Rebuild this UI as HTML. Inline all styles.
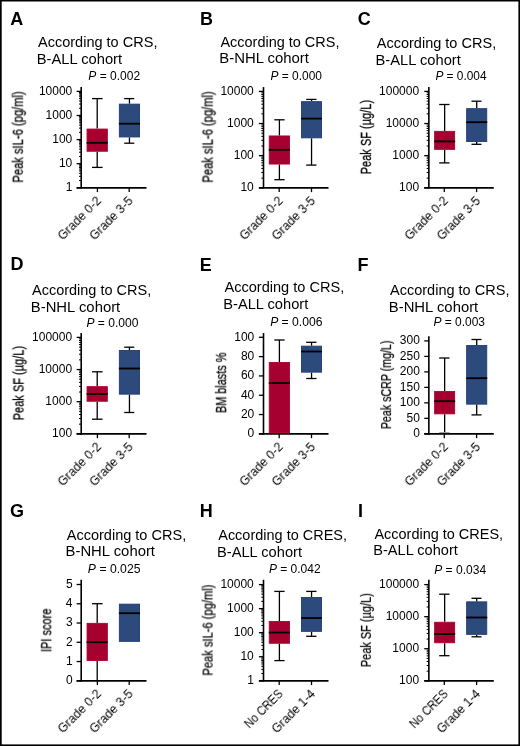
<!DOCTYPE html>
<html><head><meta charset="utf-8"><title>Figure</title>
<style>
html,body{margin:0;padding:0;background:#fff;}
body{width:520px;height:746px;overflow:hidden;}
svg{display:block;font-family:"Liberation Sans", sans-serif;}
text{will-change:transform;}
</style></head><body>
<svg width="520" height="746" viewBox="0 0 520 746" fill="#000">
<rect x="0" y="0" width="520" height="746" fill="#fff"/>
<rect x="0" y="0" width="1.7" height="746" fill="#000"/><rect x="0" y="0" width="520" height="1.5" fill="#000"/><rect x="518.4" y="0" width="1.6" height="746" fill="#000"/><rect x="0" y="744.4" width="520" height="1.6" fill="#000"/>
<text transform="translate(10.35,25.00) scale(1.0000,1)" font-size="18" font-weight="bold">A</text>
<text transform="translate(37.97,47.30) scale(1.0096,1)" font-size="14.4">According to CRS,</text>
<text transform="translate(36.79,64.30) scale(1.0211,1)" font-size="14.4">B-ALL cohort</text>
<text transform="translate(88.33,79.60) scale(1.0013,1)" font-size="12"><tspan font-style="italic">P</tspan> = 0.002</text>
<line x1="81.20" y1="87.10" x2="81.20" y2="188.60" stroke="#000" stroke-width="1.6"/>
<line x1="76.60" y1="187.80" x2="146.50" y2="187.80" stroke="#000" stroke-width="1.7"/>
<line x1="76.60" y1="91.40" x2="81.20" y2="91.40" stroke="#000" stroke-width="1.3"/>
<text transform="translate(38.90,94.80) scale(1.0000,1)" font-size="12">10000</text>
<line x1="76.60" y1="115.50" x2="81.20" y2="115.50" stroke="#000" stroke-width="1.3"/>
<text transform="translate(45.57,118.90) scale(1.0000,1)" font-size="12">1000</text>
<line x1="76.60" y1="139.60" x2="81.20" y2="139.60" stroke="#000" stroke-width="1.3"/>
<text transform="translate(52.25,143.00) scale(1.0000,1)" font-size="12">100</text>
<line x1="76.60" y1="163.70" x2="81.20" y2="163.70" stroke="#000" stroke-width="1.3"/>
<text transform="translate(58.92,167.10) scale(1.0000,1)" font-size="12">10</text>
<line x1="76.60" y1="187.80" x2="81.20" y2="187.80" stroke="#000" stroke-width="1.3"/>
<text transform="translate(65.71,191.20) scale(1.0000,1)" font-size="12">1</text>
<line x1="79.00" y1="108.25" x2="81.20" y2="108.25" stroke="#000" stroke-width="1.0"/>
<line x1="79.00" y1="104.00" x2="81.20" y2="104.00" stroke="#000" stroke-width="1.0"/>
<line x1="79.00" y1="100.99" x2="81.20" y2="100.99" stroke="#000" stroke-width="1.0"/>
<line x1="79.00" y1="98.65" x2="81.20" y2="98.65" stroke="#000" stroke-width="1.0"/>
<line x1="79.00" y1="96.75" x2="81.20" y2="96.75" stroke="#000" stroke-width="1.0"/>
<line x1="79.00" y1="95.13" x2="81.20" y2="95.13" stroke="#000" stroke-width="1.0"/>
<line x1="79.00" y1="93.74" x2="81.20" y2="93.74" stroke="#000" stroke-width="1.0"/>
<line x1="79.00" y1="92.50" x2="81.20" y2="92.50" stroke="#000" stroke-width="1.0"/>
<line x1="79.00" y1="132.35" x2="81.20" y2="132.35" stroke="#000" stroke-width="1.0"/>
<line x1="79.00" y1="128.10" x2="81.20" y2="128.10" stroke="#000" stroke-width="1.0"/>
<line x1="79.00" y1="125.09" x2="81.20" y2="125.09" stroke="#000" stroke-width="1.0"/>
<line x1="79.00" y1="122.75" x2="81.20" y2="122.75" stroke="#000" stroke-width="1.0"/>
<line x1="79.00" y1="120.85" x2="81.20" y2="120.85" stroke="#000" stroke-width="1.0"/>
<line x1="79.00" y1="119.23" x2="81.20" y2="119.23" stroke="#000" stroke-width="1.0"/>
<line x1="79.00" y1="117.84" x2="81.20" y2="117.84" stroke="#000" stroke-width="1.0"/>
<line x1="79.00" y1="116.60" x2="81.20" y2="116.60" stroke="#000" stroke-width="1.0"/>
<line x1="79.00" y1="156.45" x2="81.20" y2="156.45" stroke="#000" stroke-width="1.0"/>
<line x1="79.00" y1="152.20" x2="81.20" y2="152.20" stroke="#000" stroke-width="1.0"/>
<line x1="79.00" y1="149.19" x2="81.20" y2="149.19" stroke="#000" stroke-width="1.0"/>
<line x1="79.00" y1="146.85" x2="81.20" y2="146.85" stroke="#000" stroke-width="1.0"/>
<line x1="79.00" y1="144.95" x2="81.20" y2="144.95" stroke="#000" stroke-width="1.0"/>
<line x1="79.00" y1="143.33" x2="81.20" y2="143.33" stroke="#000" stroke-width="1.0"/>
<line x1="79.00" y1="141.94" x2="81.20" y2="141.94" stroke="#000" stroke-width="1.0"/>
<line x1="79.00" y1="140.70" x2="81.20" y2="140.70" stroke="#000" stroke-width="1.0"/>
<line x1="79.00" y1="180.55" x2="81.20" y2="180.55" stroke="#000" stroke-width="1.0"/>
<line x1="79.00" y1="176.30" x2="81.20" y2="176.30" stroke="#000" stroke-width="1.0"/>
<line x1="79.00" y1="173.29" x2="81.20" y2="173.29" stroke="#000" stroke-width="1.0"/>
<line x1="79.00" y1="170.95" x2="81.20" y2="170.95" stroke="#000" stroke-width="1.0"/>
<line x1="79.00" y1="169.05" x2="81.20" y2="169.05" stroke="#000" stroke-width="1.0"/>
<line x1="79.00" y1="167.43" x2="81.20" y2="167.43" stroke="#000" stroke-width="1.0"/>
<line x1="79.00" y1="166.04" x2="81.20" y2="166.04" stroke="#000" stroke-width="1.0"/>
<line x1="79.00" y1="164.80" x2="81.20" y2="164.80" stroke="#000" stroke-width="1.0"/>
<line x1="97.40" y1="187.80" x2="97.40" y2="192.10" stroke="#000" stroke-width="1.3"/>
<line x1="129.20" y1="187.80" x2="129.20" y2="192.10" stroke="#000" stroke-width="1.3"/>
<text transform="translate(62.78,240.72) rotate(-45) scale(1.0000,1)" font-size="12.3">Grade 0-2</text>
<text transform="translate(94.51,240.79) rotate(-45) scale(1.0000,1)" font-size="12.3">Grade 3-5</text>
<line x1="97.20" y1="98.60" x2="97.20" y2="128.60" stroke="#000" stroke-width="1.3"/>
<line x1="92.00" y1="98.60" x2="102.60" y2="98.60" stroke="#000" stroke-width="1.3"/>
<line x1="97.20" y1="151.70" x2="97.20" y2="167.40" stroke="#000" stroke-width="1.3"/>
<line x1="92.00" y1="167.40" x2="102.60" y2="167.40" stroke="#000" stroke-width="1.3"/>
<rect x="87.05" y="129.05" width="20.30" height="22.20" fill="#a50030" stroke="#b0002e" stroke-width="0.9"/>
<line x1="86.60" y1="142.80" x2="107.80" y2="142.80" stroke="#000" stroke-width="1.8"/>
<line x1="129.45" y1="98.60" x2="129.45" y2="103.70" stroke="#000" stroke-width="1.3"/>
<line x1="124.20" y1="98.60" x2="134.30" y2="98.60" stroke="#000" stroke-width="1.3"/>
<line x1="129.45" y1="137.40" x2="129.45" y2="143.20" stroke="#000" stroke-width="1.3"/>
<line x1="124.20" y1="143.20" x2="134.30" y2="143.20" stroke="#000" stroke-width="1.3"/>
<rect x="119.35" y="104.15" width="20.20" height="32.80" fill="#2d4a7d" stroke="#1f3b76" stroke-width="0.9"/>
<line x1="118.90" y1="123.70" x2="140.00" y2="123.70" stroke="#000" stroke-width="1.8"/>
<text transform="translate(22.80,182.62) rotate(-90) scale(0.7443,1)" font-size="15" stroke="#000" stroke-width="0.25">Peak sIL-6 (pg/ml)</text>
<text transform="translate(199.90,25.00) scale(1.0000,1)" font-size="18" font-weight="bold">B</text>
<text transform="translate(220.47,46.50) scale(1.0053,1)" font-size="14.4">According to CRS,</text>
<text transform="translate(219.28,63.30) scale(1.0356,1)" font-size="14.4">B-NHL cohort</text>
<text transform="translate(270.43,79.80) scale(0.9966,1)" font-size="12"><tspan font-style="italic">P</tspan> = 0.000</text>
<line x1="263.50" y1="87.10" x2="263.50" y2="188.60" stroke="#000" stroke-width="1.6"/>
<line x1="258.90" y1="187.80" x2="328.50" y2="187.80" stroke="#000" stroke-width="1.7"/>
<line x1="258.90" y1="91.40" x2="263.50" y2="91.40" stroke="#000" stroke-width="1.3"/>
<text transform="translate(220.40,94.80) scale(1.0000,1)" font-size="12">10000</text>
<line x1="258.90" y1="123.53" x2="263.50" y2="123.53" stroke="#000" stroke-width="1.3"/>
<text transform="translate(227.07,126.93) scale(1.0000,1)" font-size="12">1000</text>
<line x1="258.90" y1="155.67" x2="263.50" y2="155.67" stroke="#000" stroke-width="1.3"/>
<text transform="translate(233.75,159.07) scale(1.0000,1)" font-size="12">100</text>
<line x1="258.90" y1="187.80" x2="263.50" y2="187.80" stroke="#000" stroke-width="1.3"/>
<text transform="translate(240.42,191.20) scale(1.0000,1)" font-size="12">10</text>
<line x1="261.30" y1="113.86" x2="263.50" y2="113.86" stroke="#000" stroke-width="1.0"/>
<line x1="261.30" y1="108.20" x2="263.50" y2="108.20" stroke="#000" stroke-width="1.0"/>
<line x1="261.30" y1="104.19" x2="263.50" y2="104.19" stroke="#000" stroke-width="1.0"/>
<line x1="261.30" y1="101.07" x2="263.50" y2="101.07" stroke="#000" stroke-width="1.0"/>
<line x1="261.30" y1="98.53" x2="263.50" y2="98.53" stroke="#000" stroke-width="1.0"/>
<line x1="261.30" y1="96.38" x2="263.50" y2="96.38" stroke="#000" stroke-width="1.0"/>
<line x1="261.30" y1="94.51" x2="263.50" y2="94.51" stroke="#000" stroke-width="1.0"/>
<line x1="261.30" y1="92.87" x2="263.50" y2="92.87" stroke="#000" stroke-width="1.0"/>
<line x1="261.30" y1="145.99" x2="263.50" y2="145.99" stroke="#000" stroke-width="1.0"/>
<line x1="261.30" y1="140.34" x2="263.50" y2="140.34" stroke="#000" stroke-width="1.0"/>
<line x1="261.30" y1="136.32" x2="263.50" y2="136.32" stroke="#000" stroke-width="1.0"/>
<line x1="261.30" y1="133.21" x2="263.50" y2="133.21" stroke="#000" stroke-width="1.0"/>
<line x1="261.30" y1="130.66" x2="263.50" y2="130.66" stroke="#000" stroke-width="1.0"/>
<line x1="261.30" y1="128.51" x2="263.50" y2="128.51" stroke="#000" stroke-width="1.0"/>
<line x1="261.30" y1="126.65" x2="263.50" y2="126.65" stroke="#000" stroke-width="1.0"/>
<line x1="261.30" y1="125.00" x2="263.50" y2="125.00" stroke="#000" stroke-width="1.0"/>
<line x1="261.30" y1="178.13" x2="263.50" y2="178.13" stroke="#000" stroke-width="1.0"/>
<line x1="261.30" y1="172.47" x2="263.50" y2="172.47" stroke="#000" stroke-width="1.0"/>
<line x1="261.30" y1="168.45" x2="263.50" y2="168.45" stroke="#000" stroke-width="1.0"/>
<line x1="261.30" y1="165.34" x2="263.50" y2="165.34" stroke="#000" stroke-width="1.0"/>
<line x1="261.30" y1="162.80" x2="263.50" y2="162.80" stroke="#000" stroke-width="1.0"/>
<line x1="261.30" y1="160.64" x2="263.50" y2="160.64" stroke="#000" stroke-width="1.0"/>
<line x1="261.30" y1="158.78" x2="263.50" y2="158.78" stroke="#000" stroke-width="1.0"/>
<line x1="261.30" y1="157.14" x2="263.50" y2="157.14" stroke="#000" stroke-width="1.0"/>
<line x1="279.20" y1="187.80" x2="279.20" y2="192.10" stroke="#000" stroke-width="1.3"/>
<line x1="311.50" y1="187.80" x2="311.50" y2="192.10" stroke="#000" stroke-width="1.3"/>
<text transform="translate(244.58,240.72) rotate(-45) scale(1.0000,1)" font-size="12.3">Grade 0-2</text>
<text transform="translate(276.81,240.79) rotate(-45) scale(1.0000,1)" font-size="12.3">Grade 3-5</text>
<line x1="279.40" y1="119.80" x2="279.40" y2="135.50" stroke="#000" stroke-width="1.3"/>
<line x1="274.30" y1="119.80" x2="284.60" y2="119.80" stroke="#000" stroke-width="1.3"/>
<line x1="279.40" y1="164.50" x2="279.40" y2="179.70" stroke="#000" stroke-width="1.3"/>
<line x1="274.30" y1="179.70" x2="284.60" y2="179.70" stroke="#000" stroke-width="1.3"/>
<rect x="269.25" y="135.95" width="20.30" height="28.10" fill="#a50030" stroke="#b0002e" stroke-width="0.9"/>
<line x1="268.80" y1="149.80" x2="290.00" y2="149.80" stroke="#000" stroke-width="1.8"/>
<line x1="311.55" y1="99.40" x2="311.55" y2="101.20" stroke="#000" stroke-width="1.3"/>
<line x1="306.20" y1="99.40" x2="316.50" y2="99.40" stroke="#000" stroke-width="1.3"/>
<line x1="311.55" y1="138.30" x2="311.55" y2="165.10" stroke="#000" stroke-width="1.3"/>
<line x1="306.20" y1="165.10" x2="316.50" y2="165.10" stroke="#000" stroke-width="1.3"/>
<rect x="301.55" y="101.65" width="20.00" height="36.20" fill="#2d4a7d" stroke="#1f3b76" stroke-width="0.9"/>
<line x1="301.10" y1="118.60" x2="322.00" y2="118.60" stroke="#000" stroke-width="1.8"/>
<text transform="translate(212.60,182.62) rotate(-90) scale(0.7443,1)" font-size="15" stroke="#000" stroke-width="0.25">Peak sIL-6 (pg/ml)</text>
<text transform="translate(357.86,25.00) scale(1.0000,1)" font-size="18" font-weight="bold">C</text>
<text transform="translate(376.72,48.00) scale(1.0096,1)" font-size="14.4">According to CRS,</text>
<text transform="translate(375.54,65.00) scale(1.0211,1)" font-size="14.4">B-ALL cohort</text>
<text transform="translate(435.38,80.00) scale(0.9904,1)" font-size="12"><tspan font-style="italic">P</tspan> = 0.004</text>
<line x1="428.85" y1="87.10" x2="428.85" y2="188.60" stroke="#000" stroke-width="1.6"/>
<line x1="424.25" y1="187.80" x2="493.80" y2="187.80" stroke="#000" stroke-width="1.7"/>
<line x1="424.25" y1="91.40" x2="428.85" y2="91.40" stroke="#000" stroke-width="1.3"/>
<text transform="translate(379.03,94.80) scale(1.0000,1)" font-size="12">100000</text>
<line x1="424.25" y1="123.53" x2="428.85" y2="123.53" stroke="#000" stroke-width="1.3"/>
<text transform="translate(385.70,126.93) scale(1.0000,1)" font-size="12">10000</text>
<line x1="424.25" y1="155.67" x2="428.85" y2="155.67" stroke="#000" stroke-width="1.3"/>
<text transform="translate(392.37,159.07) scale(1.0000,1)" font-size="12">1000</text>
<line x1="424.25" y1="187.80" x2="428.85" y2="187.80" stroke="#000" stroke-width="1.3"/>
<text transform="translate(399.05,191.20) scale(1.0000,1)" font-size="12">100</text>
<line x1="426.65" y1="113.86" x2="428.85" y2="113.86" stroke="#000" stroke-width="1.0"/>
<line x1="426.65" y1="108.20" x2="428.85" y2="108.20" stroke="#000" stroke-width="1.0"/>
<line x1="426.65" y1="104.19" x2="428.85" y2="104.19" stroke="#000" stroke-width="1.0"/>
<line x1="426.65" y1="101.07" x2="428.85" y2="101.07" stroke="#000" stroke-width="1.0"/>
<line x1="426.65" y1="98.53" x2="428.85" y2="98.53" stroke="#000" stroke-width="1.0"/>
<line x1="426.65" y1="96.38" x2="428.85" y2="96.38" stroke="#000" stroke-width="1.0"/>
<line x1="426.65" y1="94.51" x2="428.85" y2="94.51" stroke="#000" stroke-width="1.0"/>
<line x1="426.65" y1="92.87" x2="428.85" y2="92.87" stroke="#000" stroke-width="1.0"/>
<line x1="426.65" y1="145.99" x2="428.85" y2="145.99" stroke="#000" stroke-width="1.0"/>
<line x1="426.65" y1="140.34" x2="428.85" y2="140.34" stroke="#000" stroke-width="1.0"/>
<line x1="426.65" y1="136.32" x2="428.85" y2="136.32" stroke="#000" stroke-width="1.0"/>
<line x1="426.65" y1="133.21" x2="428.85" y2="133.21" stroke="#000" stroke-width="1.0"/>
<line x1="426.65" y1="130.66" x2="428.85" y2="130.66" stroke="#000" stroke-width="1.0"/>
<line x1="426.65" y1="128.51" x2="428.85" y2="128.51" stroke="#000" stroke-width="1.0"/>
<line x1="426.65" y1="126.65" x2="428.85" y2="126.65" stroke="#000" stroke-width="1.0"/>
<line x1="426.65" y1="125.00" x2="428.85" y2="125.00" stroke="#000" stroke-width="1.0"/>
<line x1="426.65" y1="178.13" x2="428.85" y2="178.13" stroke="#000" stroke-width="1.0"/>
<line x1="426.65" y1="172.47" x2="428.85" y2="172.47" stroke="#000" stroke-width="1.0"/>
<line x1="426.65" y1="168.45" x2="428.85" y2="168.45" stroke="#000" stroke-width="1.0"/>
<line x1="426.65" y1="165.34" x2="428.85" y2="165.34" stroke="#000" stroke-width="1.0"/>
<line x1="426.65" y1="162.80" x2="428.85" y2="162.80" stroke="#000" stroke-width="1.0"/>
<line x1="426.65" y1="160.64" x2="428.85" y2="160.64" stroke="#000" stroke-width="1.0"/>
<line x1="426.65" y1="158.78" x2="428.85" y2="158.78" stroke="#000" stroke-width="1.0"/>
<line x1="426.65" y1="157.14" x2="428.85" y2="157.14" stroke="#000" stroke-width="1.0"/>
<line x1="444.30" y1="187.80" x2="444.30" y2="192.10" stroke="#000" stroke-width="1.3"/>
<line x1="476.60" y1="187.80" x2="476.60" y2="192.10" stroke="#000" stroke-width="1.3"/>
<text transform="translate(409.68,240.72) rotate(-45) scale(1.0000,1)" font-size="12.3">Grade 0-2</text>
<text transform="translate(441.91,240.79) rotate(-45) scale(1.0000,1)" font-size="12.3">Grade 3-5</text>
<line x1="444.65" y1="104.50" x2="444.65" y2="130.90" stroke="#000" stroke-width="1.3"/>
<line x1="439.20" y1="104.50" x2="449.50" y2="104.50" stroke="#000" stroke-width="1.3"/>
<line x1="444.65" y1="149.80" x2="444.65" y2="162.90" stroke="#000" stroke-width="1.3"/>
<line x1="439.20" y1="162.90" x2="449.50" y2="162.90" stroke="#000" stroke-width="1.3"/>
<rect x="434.65" y="131.35" width="20.00" height="18.00" fill="#a50030" stroke="#b0002e" stroke-width="0.9"/>
<line x1="434.20" y1="141.40" x2="455.10" y2="141.40" stroke="#000" stroke-width="1.8"/>
<line x1="476.70" y1="101.20" x2="476.70" y2="108.20" stroke="#000" stroke-width="1.3"/>
<line x1="471.50" y1="101.20" x2="481.50" y2="101.20" stroke="#000" stroke-width="1.3"/>
<line x1="476.70" y1="142.00" x2="476.70" y2="144.30" stroke="#000" stroke-width="1.3"/>
<line x1="471.50" y1="144.30" x2="481.50" y2="144.30" stroke="#000" stroke-width="1.3"/>
<rect x="466.65" y="108.65" width="20.10" height="32.90" fill="#2d4a7d" stroke="#1f3b76" stroke-width="0.9"/>
<line x1="466.20" y1="122.20" x2="487.20" y2="122.20" stroke="#000" stroke-width="1.8"/>
<text transform="translate(370.90,174.30) rotate(-90) scale(0.7352,1)" font-size="15" stroke="#000" stroke-width="0.25">Peak SF (µg/L)</text>
<text transform="translate(10.50,270.30) scale(1.0000,1)" font-size="18" font-weight="bold">D</text>
<text transform="translate(31.97,294.75) scale(1.0075,1)" font-size="14.4">According to CRS,</text>
<text transform="translate(30.78,311.50) scale(1.0327,1)" font-size="14.4">B-NHL cohort</text>
<text transform="translate(86.38,327.00) scale(1.0074,1)" font-size="12"><tspan font-style="italic">P</tspan> = 0.000</text>
<line x1="81.20" y1="333.10" x2="81.20" y2="434.65" stroke="#000" stroke-width="1.6"/>
<line x1="76.60" y1="433.85" x2="146.50" y2="433.85" stroke="#000" stroke-width="1.7"/>
<line x1="76.60" y1="337.40" x2="81.20" y2="337.40" stroke="#000" stroke-width="1.3"/>
<text transform="translate(32.03,340.80) scale(1.0000,1)" font-size="12">100000</text>
<line x1="76.60" y1="369.55" x2="81.20" y2="369.55" stroke="#000" stroke-width="1.3"/>
<text transform="translate(38.70,372.95) scale(1.0000,1)" font-size="12">10000</text>
<line x1="76.60" y1="401.70" x2="81.20" y2="401.70" stroke="#000" stroke-width="1.3"/>
<text transform="translate(45.37,405.10) scale(1.0000,1)" font-size="12">1000</text>
<line x1="76.60" y1="433.85" x2="81.20" y2="433.85" stroke="#000" stroke-width="1.3"/>
<text transform="translate(52.05,437.25) scale(1.0000,1)" font-size="12">100</text>
<line x1="79.00" y1="359.87" x2="81.20" y2="359.87" stroke="#000" stroke-width="1.0"/>
<line x1="79.00" y1="354.21" x2="81.20" y2="354.21" stroke="#000" stroke-width="1.0"/>
<line x1="79.00" y1="350.19" x2="81.20" y2="350.19" stroke="#000" stroke-width="1.0"/>
<line x1="79.00" y1="347.08" x2="81.20" y2="347.08" stroke="#000" stroke-width="1.0"/>
<line x1="79.00" y1="344.53" x2="81.20" y2="344.53" stroke="#000" stroke-width="1.0"/>
<line x1="79.00" y1="342.38" x2="81.20" y2="342.38" stroke="#000" stroke-width="1.0"/>
<line x1="79.00" y1="340.52" x2="81.20" y2="340.52" stroke="#000" stroke-width="1.0"/>
<line x1="79.00" y1="338.87" x2="81.20" y2="338.87" stroke="#000" stroke-width="1.0"/>
<line x1="79.00" y1="392.02" x2="81.20" y2="392.02" stroke="#000" stroke-width="1.0"/>
<line x1="79.00" y1="386.36" x2="81.20" y2="386.36" stroke="#000" stroke-width="1.0"/>
<line x1="79.00" y1="382.34" x2="81.20" y2="382.34" stroke="#000" stroke-width="1.0"/>
<line x1="79.00" y1="379.23" x2="81.20" y2="379.23" stroke="#000" stroke-width="1.0"/>
<line x1="79.00" y1="376.68" x2="81.20" y2="376.68" stroke="#000" stroke-width="1.0"/>
<line x1="79.00" y1="374.53" x2="81.20" y2="374.53" stroke="#000" stroke-width="1.0"/>
<line x1="79.00" y1="372.67" x2="81.20" y2="372.67" stroke="#000" stroke-width="1.0"/>
<line x1="79.00" y1="371.02" x2="81.20" y2="371.02" stroke="#000" stroke-width="1.0"/>
<line x1="79.00" y1="424.17" x2="81.20" y2="424.17" stroke="#000" stroke-width="1.0"/>
<line x1="79.00" y1="418.51" x2="81.20" y2="418.51" stroke="#000" stroke-width="1.0"/>
<line x1="79.00" y1="414.49" x2="81.20" y2="414.49" stroke="#000" stroke-width="1.0"/>
<line x1="79.00" y1="411.38" x2="81.20" y2="411.38" stroke="#000" stroke-width="1.0"/>
<line x1="79.00" y1="408.83" x2="81.20" y2="408.83" stroke="#000" stroke-width="1.0"/>
<line x1="79.00" y1="406.68" x2="81.20" y2="406.68" stroke="#000" stroke-width="1.0"/>
<line x1="79.00" y1="404.82" x2="81.20" y2="404.82" stroke="#000" stroke-width="1.0"/>
<line x1="79.00" y1="403.17" x2="81.20" y2="403.17" stroke="#000" stroke-width="1.0"/>
<line x1="97.40" y1="433.85" x2="97.40" y2="438.15" stroke="#000" stroke-width="1.3"/>
<line x1="129.20" y1="433.85" x2="129.20" y2="438.15" stroke="#000" stroke-width="1.3"/>
<text transform="translate(62.78,486.77) rotate(-45) scale(1.0000,1)" font-size="12.3">Grade 0-2</text>
<text transform="translate(94.51,486.84) rotate(-45) scale(1.0000,1)" font-size="12.3">Grade 3-5</text>
<line x1="97.20" y1="371.80" x2="97.20" y2="386.20" stroke="#000" stroke-width="1.3"/>
<line x1="92.00" y1="371.80" x2="102.60" y2="371.80" stroke="#000" stroke-width="1.3"/>
<line x1="97.20" y1="401.70" x2="97.20" y2="419.20" stroke="#000" stroke-width="1.3"/>
<line x1="92.00" y1="419.20" x2="102.60" y2="419.20" stroke="#000" stroke-width="1.3"/>
<rect x="87.05" y="386.65" width="20.30" height="14.60" fill="#a50030" stroke="#b0002e" stroke-width="0.9"/>
<line x1="86.60" y1="394.00" x2="107.80" y2="394.00" stroke="#000" stroke-width="1.8"/>
<line x1="129.45" y1="347.20" x2="129.45" y2="350.00" stroke="#000" stroke-width="1.3"/>
<line x1="124.20" y1="347.20" x2="134.30" y2="347.20" stroke="#000" stroke-width="1.3"/>
<line x1="129.45" y1="394.60" x2="129.45" y2="412.50" stroke="#000" stroke-width="1.3"/>
<line x1="124.20" y1="412.50" x2="134.30" y2="412.50" stroke="#000" stroke-width="1.3"/>
<rect x="119.35" y="350.45" width="20.20" height="43.70" fill="#2d4a7d" stroke="#1f3b76" stroke-width="0.9"/>
<line x1="118.90" y1="368.50" x2="140.00" y2="368.50" stroke="#000" stroke-width="1.8"/>
<text transform="translate(23.50,420.30) rotate(-90) scale(0.7352,1)" font-size="15" stroke="#000" stroke-width="0.25">Peak SF (µg/L)</text>
<text transform="translate(199.70,270.60) scale(1.0000,1)" font-size="18" font-weight="bold">E</text>
<text transform="translate(224.47,292.30) scale(1.0117,1)" font-size="14.4">According to CRS,</text>
<text transform="translate(223.30,309.30) scale(1.0180,1)" font-size="14.4">B-ALL cohort</text>
<text transform="translate(270.13,325.50) scale(1.0135,1)" font-size="12"><tspan font-style="italic">P</tspan> = 0.006</text>
<line x1="263.50" y1="333.10" x2="263.50" y2="434.65" stroke="#000" stroke-width="1.6"/>
<line x1="258.90" y1="433.85" x2="328.50" y2="433.85" stroke="#000" stroke-width="1.7"/>
<line x1="258.90" y1="337.30" x2="263.50" y2="337.30" stroke="#000" stroke-width="1.3"/>
<text transform="translate(234.25,340.70) scale(1.0000,1)" font-size="12">100</text>
<line x1="258.90" y1="356.61" x2="263.50" y2="356.61" stroke="#000" stroke-width="1.3"/>
<text transform="translate(240.92,360.01) scale(1.0000,1)" font-size="12">80</text>
<line x1="258.90" y1="375.92" x2="263.50" y2="375.92" stroke="#000" stroke-width="1.3"/>
<text transform="translate(240.92,379.32) scale(1.0000,1)" font-size="12">60</text>
<line x1="258.90" y1="395.23" x2="263.50" y2="395.23" stroke="#000" stroke-width="1.3"/>
<text transform="translate(240.92,398.63) scale(1.0000,1)" font-size="12">40</text>
<line x1="258.90" y1="414.54" x2="263.50" y2="414.54" stroke="#000" stroke-width="1.3"/>
<text transform="translate(240.92,417.94) scale(1.0000,1)" font-size="12">20</text>
<line x1="258.90" y1="433.85" x2="263.50" y2="433.85" stroke="#000" stroke-width="1.3"/>
<text transform="translate(247.59,437.25) scale(1.0000,1)" font-size="12">0</text>
<line x1="279.20" y1="433.85" x2="279.20" y2="438.15" stroke="#000" stroke-width="1.3"/>
<line x1="311.50" y1="433.85" x2="311.50" y2="438.15" stroke="#000" stroke-width="1.3"/>
<text transform="translate(244.58,486.77) rotate(-45) scale(1.0000,1)" font-size="12.3">Grade 0-2</text>
<text transform="translate(276.81,486.84) rotate(-45) scale(1.0000,1)" font-size="12.3">Grade 3-5</text>
<line x1="279.40" y1="340.00" x2="279.40" y2="362.00" stroke="#000" stroke-width="1.3"/>
<line x1="274.30" y1="340.00" x2="284.60" y2="340.00" stroke="#000" stroke-width="1.3"/>
<rect x="269.25" y="362.45" width="20.30" height="70.50" fill="#a50030" stroke="#b0002e" stroke-width="0.9"/>
<line x1="268.80" y1="383.10" x2="290.00" y2="383.10" stroke="#000" stroke-width="1.8"/>
<line x1="311.55" y1="342.30" x2="311.55" y2="345.70" stroke="#000" stroke-width="1.3"/>
<line x1="306.20" y1="342.30" x2="316.50" y2="342.30" stroke="#000" stroke-width="1.3"/>
<line x1="311.55" y1="372.60" x2="311.55" y2="378.50" stroke="#000" stroke-width="1.3"/>
<line x1="306.20" y1="378.50" x2="316.50" y2="378.50" stroke="#000" stroke-width="1.3"/>
<rect x="301.55" y="346.15" width="20.00" height="26.00" fill="#2d4a7d" stroke="#1f3b76" stroke-width="0.9"/>
<line x1="301.10" y1="351.50" x2="322.00" y2="351.50" stroke="#000" stroke-width="1.8"/>
<text transform="translate(226.10,412.99) rotate(-90) scale(0.7033,1)" font-size="15.5" stroke="#000" stroke-width="0.25">BM blasts %</text>
<text transform="translate(357.40,270.60) scale(1.0000,1)" font-size="18" font-weight="bold">F</text>
<text transform="translate(389.97,294.75) scale(1.0096,1)" font-size="14.4">According to CRS,</text>
<text transform="translate(388.78,311.50) scale(1.0327,1)" font-size="14.4">B-NHL cohort</text>
<text transform="translate(433.38,325.50) scale(0.9988,1)" font-size="12"><tspan font-style="italic">P</tspan> = 0.003</text>
<line x1="428.85" y1="336.20" x2="428.85" y2="434.65" stroke="#000" stroke-width="1.6"/>
<line x1="424.25" y1="433.85" x2="493.80" y2="433.85" stroke="#000" stroke-width="1.7"/>
<line x1="424.25" y1="340.90" x2="428.85" y2="340.90" stroke="#000" stroke-width="1.3"/>
<text transform="translate(399.85,344.30) scale(1.0000,1)" font-size="12">300</text>
<line x1="424.25" y1="356.39" x2="428.85" y2="356.39" stroke="#000" stroke-width="1.3"/>
<text transform="translate(399.85,359.79) scale(1.0000,1)" font-size="12">250</text>
<line x1="424.25" y1="371.88" x2="428.85" y2="371.88" stroke="#000" stroke-width="1.3"/>
<text transform="translate(399.85,375.28) scale(1.0000,1)" font-size="12">200</text>
<line x1="424.25" y1="387.38" x2="428.85" y2="387.38" stroke="#000" stroke-width="1.3"/>
<text transform="translate(399.85,390.77) scale(1.0000,1)" font-size="12">150</text>
<line x1="424.25" y1="402.87" x2="428.85" y2="402.87" stroke="#000" stroke-width="1.3"/>
<text transform="translate(399.85,406.27) scale(1.0000,1)" font-size="12">100</text>
<line x1="424.25" y1="418.36" x2="428.85" y2="418.36" stroke="#000" stroke-width="1.3"/>
<text transform="translate(406.52,421.76) scale(1.0000,1)" font-size="12">50</text>
<line x1="424.25" y1="433.85" x2="428.85" y2="433.85" stroke="#000" stroke-width="1.3"/>
<text transform="translate(413.19,437.25) scale(1.0000,1)" font-size="12">0</text>
<line x1="444.30" y1="433.85" x2="444.30" y2="438.15" stroke="#000" stroke-width="1.3"/>
<line x1="476.60" y1="433.85" x2="476.60" y2="438.15" stroke="#000" stroke-width="1.3"/>
<text transform="translate(409.68,486.77) rotate(-45) scale(1.0000,1)" font-size="12.3">Grade 0-2</text>
<text transform="translate(441.91,486.84) rotate(-45) scale(1.0000,1)" font-size="12.3">Grade 3-5</text>
<line x1="444.65" y1="358.00" x2="444.65" y2="391.10" stroke="#000" stroke-width="1.3"/>
<line x1="439.20" y1="358.00" x2="449.50" y2="358.00" stroke="#000" stroke-width="1.3"/>
<line x1="444.65" y1="414.30" x2="444.65" y2="432.60" stroke="#000" stroke-width="1.3"/>
<line x1="439.20" y1="432.60" x2="449.50" y2="432.60" stroke="#999" stroke-width="1.0"/>
<rect x="434.65" y="391.55" width="20.00" height="22.30" fill="#a50030" stroke="#b0002e" stroke-width="0.9"/>
<line x1="434.20" y1="401.20" x2="455.10" y2="401.20" stroke="#000" stroke-width="1.8"/>
<line x1="476.70" y1="339.50" x2="476.70" y2="345.10" stroke="#000" stroke-width="1.3"/>
<line x1="471.50" y1="339.50" x2="481.50" y2="339.50" stroke="#000" stroke-width="1.3"/>
<line x1="476.70" y1="404.60" x2="476.70" y2="414.90" stroke="#000" stroke-width="1.3"/>
<line x1="471.50" y1="414.90" x2="481.50" y2="414.90" stroke="#000" stroke-width="1.3"/>
<rect x="466.65" y="345.55" width="20.10" height="58.60" fill="#2d4a7d" stroke="#1f3b76" stroke-width="0.9"/>
<line x1="466.20" y1="378.20" x2="487.20" y2="378.20" stroke="#000" stroke-width="1.8"/>
<text transform="translate(391.10,429.08) rotate(-90) scale(0.7113,1)" font-size="15" stroke="#000" stroke-width="0.25">Peak sCRP (mg/L)</text>
<text transform="translate(10.06,516.50) scale(1.0000,1)" font-size="18" font-weight="bold">G</text>
<text transform="translate(66.72,539.50) scale(1.0096,1)" font-size="14.4">According to CRS,</text>
<text transform="translate(65.53,556.30) scale(1.0327,1)" font-size="14.4">B-NHL cohort</text>
<text transform="translate(87.87,572.75) scale(1.0180,1)" font-size="12"><tspan font-style="italic">P</tspan> = 0.025</text>
<line x1="81.20" y1="579.80" x2="81.20" y2="681.60" stroke="#000" stroke-width="1.6"/>
<line x1="76.60" y1="680.80" x2="146.50" y2="680.80" stroke="#000" stroke-width="1.7"/>
<line x1="76.60" y1="584.50" x2="81.20" y2="584.50" stroke="#000" stroke-width="1.3"/>
<text transform="translate(65.93,587.90) scale(1.0000,1)" font-size="12">5</text>
<line x1="76.60" y1="603.76" x2="81.20" y2="603.76" stroke="#000" stroke-width="1.3"/>
<text transform="translate(65.78,607.16) scale(1.0000,1)" font-size="12">4</text>
<line x1="76.60" y1="623.02" x2="81.20" y2="623.02" stroke="#000" stroke-width="1.3"/>
<text transform="translate(65.95,626.42) scale(1.0000,1)" font-size="12">3</text>
<line x1="76.60" y1="642.28" x2="81.20" y2="642.28" stroke="#000" stroke-width="1.3"/>
<text transform="translate(66.03,645.68) scale(1.0000,1)" font-size="12">2</text>
<line x1="76.60" y1="661.54" x2="81.20" y2="661.54" stroke="#000" stroke-width="1.3"/>
<text transform="translate(66.01,664.94) scale(1.0000,1)" font-size="12">1</text>
<line x1="76.60" y1="680.80" x2="81.20" y2="680.80" stroke="#000" stroke-width="1.3"/>
<text transform="translate(65.89,684.20) scale(1.0000,1)" font-size="12">0</text>
<line x1="97.40" y1="680.80" x2="97.40" y2="685.10" stroke="#000" stroke-width="1.3"/>
<line x1="129.20" y1="680.80" x2="129.20" y2="685.10" stroke="#000" stroke-width="1.3"/>
<text transform="translate(62.78,733.72) rotate(-45) scale(1.0000,1)" font-size="12.3">Grade 0-2</text>
<text transform="translate(94.51,733.79) rotate(-45) scale(1.0000,1)" font-size="12.3">Grade 3-5</text>
<line x1="97.20" y1="603.70" x2="97.20" y2="622.90" stroke="#000" stroke-width="1.3"/>
<line x1="92.00" y1="603.70" x2="102.60" y2="603.70" stroke="#000" stroke-width="1.3"/>
<line x1="97.20" y1="660.90" x2="97.20" y2="680.60" stroke="#000" stroke-width="1.3"/>
<rect x="87.05" y="623.35" width="20.30" height="37.10" fill="#a50030" stroke="#b0002e" stroke-width="0.9"/>
<line x1="86.60" y1="642.20" x2="107.80" y2="642.20" stroke="#000" stroke-width="1.8"/>
<rect x="119.35" y="604.15" width="20.20" height="37.20" fill="#2d4a7d" stroke="#1f3b76" stroke-width="0.9"/>
<line x1="118.90" y1="613.20" x2="140.00" y2="613.20" stroke="#000" stroke-width="1.8"/>
<text transform="translate(51.20,651.92) rotate(-90) scale(0.7333,1)" font-size="15" stroke="#000" stroke-width="0.25">IPI score</text>
<text transform="translate(199.70,516.50) scale(1.0000,1)" font-size="18" font-weight="bold">H</text>
<text transform="translate(218.22,540.20) scale(1.0061,1)" font-size="14.4">According to CRES,</text>
<text transform="translate(217.05,557.00) scale(1.0180,1)" font-size="14.4">B-ALL cohort</text>
<text transform="translate(268.88,573.25) scale(1.0003,1)" font-size="12"><tspan font-style="italic">P</tspan> = 0.042</text>
<line x1="263.50" y1="579.80" x2="263.50" y2="681.60" stroke="#000" stroke-width="1.6"/>
<line x1="258.90" y1="680.80" x2="328.50" y2="680.80" stroke="#000" stroke-width="1.7"/>
<line x1="258.90" y1="584.60" x2="263.50" y2="584.60" stroke="#000" stroke-width="1.3"/>
<text transform="translate(220.40,588.00) scale(1.0000,1)" font-size="12">10000</text>
<line x1="258.90" y1="608.65" x2="263.50" y2="608.65" stroke="#000" stroke-width="1.3"/>
<text transform="translate(227.07,612.05) scale(1.0000,1)" font-size="12">1000</text>
<line x1="258.90" y1="632.70" x2="263.50" y2="632.70" stroke="#000" stroke-width="1.3"/>
<text transform="translate(233.75,636.10) scale(1.0000,1)" font-size="12">100</text>
<line x1="258.90" y1="656.75" x2="263.50" y2="656.75" stroke="#000" stroke-width="1.3"/>
<text transform="translate(240.42,660.15) scale(1.0000,1)" font-size="12">10</text>
<line x1="258.90" y1="680.80" x2="263.50" y2="680.80" stroke="#000" stroke-width="1.3"/>
<text transform="translate(247.21,684.20) scale(1.0000,1)" font-size="12">1</text>
<line x1="261.30" y1="601.41" x2="263.50" y2="601.41" stroke="#000" stroke-width="1.0"/>
<line x1="261.30" y1="597.18" x2="263.50" y2="597.18" stroke="#000" stroke-width="1.0"/>
<line x1="261.30" y1="594.17" x2="263.50" y2="594.17" stroke="#000" stroke-width="1.0"/>
<line x1="261.30" y1="591.84" x2="263.50" y2="591.84" stroke="#000" stroke-width="1.0"/>
<line x1="261.30" y1="589.94" x2="263.50" y2="589.94" stroke="#000" stroke-width="1.0"/>
<line x1="261.30" y1="588.33" x2="263.50" y2="588.33" stroke="#000" stroke-width="1.0"/>
<line x1="261.30" y1="586.93" x2="263.50" y2="586.93" stroke="#000" stroke-width="1.0"/>
<line x1="261.30" y1="585.70" x2="263.50" y2="585.70" stroke="#000" stroke-width="1.0"/>
<line x1="261.30" y1="625.46" x2="263.50" y2="625.46" stroke="#000" stroke-width="1.0"/>
<line x1="261.30" y1="621.23" x2="263.50" y2="621.23" stroke="#000" stroke-width="1.0"/>
<line x1="261.30" y1="618.22" x2="263.50" y2="618.22" stroke="#000" stroke-width="1.0"/>
<line x1="261.30" y1="615.89" x2="263.50" y2="615.89" stroke="#000" stroke-width="1.0"/>
<line x1="261.30" y1="613.99" x2="263.50" y2="613.99" stroke="#000" stroke-width="1.0"/>
<line x1="261.30" y1="612.38" x2="263.50" y2="612.38" stroke="#000" stroke-width="1.0"/>
<line x1="261.30" y1="610.98" x2="263.50" y2="610.98" stroke="#000" stroke-width="1.0"/>
<line x1="261.30" y1="609.75" x2="263.50" y2="609.75" stroke="#000" stroke-width="1.0"/>
<line x1="261.30" y1="649.51" x2="263.50" y2="649.51" stroke="#000" stroke-width="1.0"/>
<line x1="261.30" y1="645.28" x2="263.50" y2="645.28" stroke="#000" stroke-width="1.0"/>
<line x1="261.30" y1="642.27" x2="263.50" y2="642.27" stroke="#000" stroke-width="1.0"/>
<line x1="261.30" y1="639.94" x2="263.50" y2="639.94" stroke="#000" stroke-width="1.0"/>
<line x1="261.30" y1="638.04" x2="263.50" y2="638.04" stroke="#000" stroke-width="1.0"/>
<line x1="261.30" y1="636.43" x2="263.50" y2="636.43" stroke="#000" stroke-width="1.0"/>
<line x1="261.30" y1="635.03" x2="263.50" y2="635.03" stroke="#000" stroke-width="1.0"/>
<line x1="261.30" y1="633.80" x2="263.50" y2="633.80" stroke="#000" stroke-width="1.0"/>
<line x1="261.30" y1="673.56" x2="263.50" y2="673.56" stroke="#000" stroke-width="1.0"/>
<line x1="261.30" y1="669.33" x2="263.50" y2="669.33" stroke="#000" stroke-width="1.0"/>
<line x1="261.30" y1="666.32" x2="263.50" y2="666.32" stroke="#000" stroke-width="1.0"/>
<line x1="261.30" y1="663.99" x2="263.50" y2="663.99" stroke="#000" stroke-width="1.0"/>
<line x1="261.30" y1="662.09" x2="263.50" y2="662.09" stroke="#000" stroke-width="1.0"/>
<line x1="261.30" y1="660.48" x2="263.50" y2="660.48" stroke="#000" stroke-width="1.0"/>
<line x1="261.30" y1="659.08" x2="263.50" y2="659.08" stroke="#000" stroke-width="1.0"/>
<line x1="261.30" y1="657.85" x2="263.50" y2="657.85" stroke="#000" stroke-width="1.0"/>
<line x1="279.20" y1="680.80" x2="279.20" y2="685.10" stroke="#000" stroke-width="1.3"/>
<line x1="311.50" y1="680.80" x2="311.50" y2="685.10" stroke="#000" stroke-width="1.3"/>
<text transform="translate(249.36,728.94) rotate(-45) scale(0.9100,1)" font-size="12.3">No CRES</text>
<text transform="translate(276.70,733.90) rotate(-45) scale(1.0000,1)" font-size="12.3">Grade 1-4</text>
<line x1="279.40" y1="591.40" x2="279.40" y2="621.10" stroke="#000" stroke-width="1.3"/>
<line x1="274.30" y1="591.40" x2="284.60" y2="591.40" stroke="#000" stroke-width="1.3"/>
<line x1="279.40" y1="643.70" x2="279.40" y2="660.60" stroke="#000" stroke-width="1.3"/>
<line x1="274.30" y1="660.60" x2="284.60" y2="660.60" stroke="#000" stroke-width="1.3"/>
<rect x="269.25" y="621.55" width="20.30" height="21.70" fill="#a50030" stroke="#b0002e" stroke-width="0.9"/>
<line x1="268.80" y1="632.60" x2="290.00" y2="632.60" stroke="#000" stroke-width="1.8"/>
<line x1="311.55" y1="591.40" x2="311.55" y2="597.10" stroke="#000" stroke-width="1.3"/>
<line x1="306.20" y1="591.40" x2="316.50" y2="591.40" stroke="#000" stroke-width="1.3"/>
<line x1="311.55" y1="631.80" x2="311.55" y2="636.30" stroke="#000" stroke-width="1.3"/>
<line x1="306.20" y1="636.30" x2="316.50" y2="636.30" stroke="#000" stroke-width="1.3"/>
<rect x="301.55" y="597.55" width="20.00" height="33.80" fill="#2d4a7d" stroke="#1f3b76" stroke-width="0.9"/>
<line x1="301.10" y1="618.00" x2="322.00" y2="618.00" stroke="#000" stroke-width="1.8"/>
<text transform="translate(212.60,675.61) rotate(-90) scale(0.7435,1)" font-size="15" stroke="#000" stroke-width="0.25">Peak sIL-6 (pg/ml)</text>
<text transform="translate(358.00,517.20) scale(1.0000,1)" font-size="18" font-weight="bold">I</text>
<text transform="translate(374.47,538.50) scale(1.0053,1)" font-size="14.4">According to CRES,</text>
<text transform="translate(373.30,555.00) scale(1.0126,1)" font-size="14.4">B-ALL cohort</text>
<text transform="translate(434.23,573.50) scale(1.0042,1)" font-size="12"><tspan font-style="italic">P</tspan> = 0.034</text>
<line x1="428.85" y1="579.80" x2="428.85" y2="681.60" stroke="#000" stroke-width="1.6"/>
<line x1="424.25" y1="680.80" x2="493.80" y2="680.80" stroke="#000" stroke-width="1.7"/>
<line x1="424.25" y1="584.60" x2="428.85" y2="584.60" stroke="#000" stroke-width="1.3"/>
<text transform="translate(379.03,588.00) scale(1.0000,1)" font-size="12">100000</text>
<line x1="424.25" y1="616.67" x2="428.85" y2="616.67" stroke="#000" stroke-width="1.3"/>
<text transform="translate(385.70,620.07) scale(1.0000,1)" font-size="12">10000</text>
<line x1="424.25" y1="648.73" x2="428.85" y2="648.73" stroke="#000" stroke-width="1.3"/>
<text transform="translate(392.37,652.13) scale(1.0000,1)" font-size="12">1000</text>
<line x1="424.25" y1="680.80" x2="428.85" y2="680.80" stroke="#000" stroke-width="1.3"/>
<text transform="translate(399.05,684.20) scale(1.0000,1)" font-size="12">100</text>
<line x1="426.65" y1="607.01" x2="428.85" y2="607.01" stroke="#000" stroke-width="1.0"/>
<line x1="426.65" y1="601.37" x2="428.85" y2="601.37" stroke="#000" stroke-width="1.0"/>
<line x1="426.65" y1="597.36" x2="428.85" y2="597.36" stroke="#000" stroke-width="1.0"/>
<line x1="426.65" y1="594.25" x2="428.85" y2="594.25" stroke="#000" stroke-width="1.0"/>
<line x1="426.65" y1="591.71" x2="428.85" y2="591.71" stroke="#000" stroke-width="1.0"/>
<line x1="426.65" y1="589.57" x2="428.85" y2="589.57" stroke="#000" stroke-width="1.0"/>
<line x1="426.65" y1="587.71" x2="428.85" y2="587.71" stroke="#000" stroke-width="1.0"/>
<line x1="426.65" y1="586.07" x2="428.85" y2="586.07" stroke="#000" stroke-width="1.0"/>
<line x1="426.65" y1="639.08" x2="428.85" y2="639.08" stroke="#000" stroke-width="1.0"/>
<line x1="426.65" y1="633.43" x2="428.85" y2="633.43" stroke="#000" stroke-width="1.0"/>
<line x1="426.65" y1="629.43" x2="428.85" y2="629.43" stroke="#000" stroke-width="1.0"/>
<line x1="426.65" y1="626.32" x2="428.85" y2="626.32" stroke="#000" stroke-width="1.0"/>
<line x1="426.65" y1="623.78" x2="428.85" y2="623.78" stroke="#000" stroke-width="1.0"/>
<line x1="426.65" y1="621.63" x2="428.85" y2="621.63" stroke="#000" stroke-width="1.0"/>
<line x1="426.65" y1="619.77" x2="428.85" y2="619.77" stroke="#000" stroke-width="1.0"/>
<line x1="426.65" y1="618.13" x2="428.85" y2="618.13" stroke="#000" stroke-width="1.0"/>
<line x1="426.65" y1="671.15" x2="428.85" y2="671.15" stroke="#000" stroke-width="1.0"/>
<line x1="426.65" y1="665.50" x2="428.85" y2="665.50" stroke="#000" stroke-width="1.0"/>
<line x1="426.65" y1="661.49" x2="428.85" y2="661.49" stroke="#000" stroke-width="1.0"/>
<line x1="426.65" y1="658.39" x2="428.85" y2="658.39" stroke="#000" stroke-width="1.0"/>
<line x1="426.65" y1="655.85" x2="428.85" y2="655.85" stroke="#000" stroke-width="1.0"/>
<line x1="426.65" y1="653.70" x2="428.85" y2="653.70" stroke="#000" stroke-width="1.0"/>
<line x1="426.65" y1="651.84" x2="428.85" y2="651.84" stroke="#000" stroke-width="1.0"/>
<line x1="426.65" y1="650.20" x2="428.85" y2="650.20" stroke="#000" stroke-width="1.0"/>
<line x1="444.30" y1="680.80" x2="444.30" y2="685.10" stroke="#000" stroke-width="1.3"/>
<line x1="476.60" y1="680.80" x2="476.60" y2="685.10" stroke="#000" stroke-width="1.3"/>
<text transform="translate(414.46,728.94) rotate(-45) scale(0.9100,1)" font-size="12.3">No CRES</text>
<text transform="translate(441.80,733.90) rotate(-45) scale(1.0000,1)" font-size="12.3">Grade 1-4</text>
<line x1="444.65" y1="594.20" x2="444.65" y2="621.80" stroke="#000" stroke-width="1.3"/>
<line x1="439.20" y1="594.20" x2="449.50" y2="594.20" stroke="#000" stroke-width="1.3"/>
<line x1="444.65" y1="643.20" x2="444.65" y2="655.70" stroke="#000" stroke-width="1.3"/>
<line x1="439.20" y1="655.70" x2="449.50" y2="655.70" stroke="#000" stroke-width="1.3"/>
<rect x="434.65" y="622.25" width="20.00" height="20.50" fill="#a50030" stroke="#b0002e" stroke-width="0.9"/>
<line x1="434.20" y1="634.00" x2="455.10" y2="634.00" stroke="#000" stroke-width="1.8"/>
<line x1="476.70" y1="598.30" x2="476.70" y2="601.40" stroke="#000" stroke-width="1.3"/>
<line x1="471.50" y1="598.30" x2="481.50" y2="598.30" stroke="#000" stroke-width="1.3"/>
<line x1="476.70" y1="634.80" x2="476.70" y2="636.80" stroke="#000" stroke-width="1.3"/>
<line x1="471.50" y1="636.80" x2="481.50" y2="636.80" stroke="#000" stroke-width="1.3"/>
<rect x="466.65" y="601.85" width="20.10" height="32.50" fill="#2d4a7d" stroke="#1f3b76" stroke-width="0.9"/>
<line x1="466.20" y1="617.50" x2="487.20" y2="617.50" stroke="#000" stroke-width="1.8"/>
<text transform="translate(370.90,667.10) rotate(-90) scale(0.7322,1)" font-size="15" stroke="#000" stroke-width="0.25">Peak SF (µg/L)</text>
</svg>
</body></html>
